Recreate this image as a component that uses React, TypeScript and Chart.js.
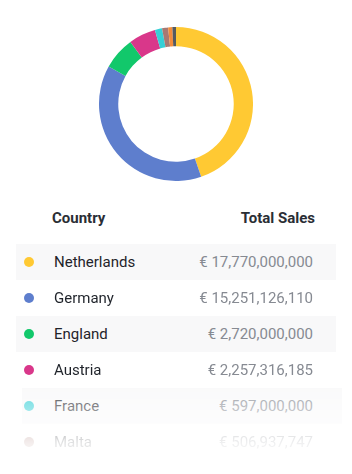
import React, { useEffect, useRef } from "react";
import { Chart, registerables } from "chart.js";

Chart.register(...registerables);

const countries = ["Netherlands", "Germany", "England", "Austria", "France", "Malta", "Belgium", "Other"];
const sales = [17770000000, 15251126110, 2720000000, 2257316185, 597000000, 506937747, 350000000, 300000000];
const colors = ["#FFC933", "#5E7ECD", "#12C86B", "#D9378A", "#36CFD6", "#A97872", "#F28B3B", "#555A60"];
const visibleRows = 6;

const fmt = (v: number) => "€ " + v.toLocaleString("en-US");

export default function App() {
  const ref = useRef<HTMLCanvasElement | null>(null);

  useEffect(() => {
    if (!ref.current) return;
    const chart = new Chart(ref.current, {
      type: "doughnut",
      data: {
        labels: countries,
        datasets: [
          {
            data: sales,
            backgroundColor: colors,
            borderWidth: 0,
          },
        ],
      },
      options: {
        animation: false,
        responsive: true,
        maintainAspectRatio: false,
        cutout: "75%",
        layout: { padding: 0 },
        plugins: { legend: { display: false }, tooltip: { enabled: false } },
      },
    });
    return () => chart.destroy();
  }, []);

  const font = "Roboto, 'Noto Sans', sans-serif";
  const mask = "linear-gradient(to bottom, #000 0px, #000 130px, rgba(0,0,0,0.55) 162px, rgba(0,0,0,0.12) 200px, rgba(0,0,0,0) 225px)";

  return (
    <div style={{ position: "absolute", left: 0, top: 0, width: 352, height: 474, background: "#fff", overflow: "hidden", fontFamily: font }}>
      <div style={{ position: "absolute", left: 99, top: 27, width: 154, height: 154 }}>
        <canvas ref={ref} />
      </div>
      <div style={{ position: "absolute", left: 16, top: 200, width: 320, height: 36, fontWeight: 700, fontSize: 15, color: "#2a2e35", lineHeight: "36px" }}>
        <div style={{ position: "absolute", left: 36, top: 0 }}>Country</div>
        <div style={{ position: "absolute", right: 21, top: 0 }}>Total Sales</div>
      </div>
      <div
        style={{
          position: "absolute",
          left: 0,
          top: 244,
          width: 352,
          height: 226,
          WebkitMaskImage: mask,
          maskImage: mask,
        } as any}
      >
        {countries.slice(0, visibleRows).map((c, i) => (
          <div key={c} style={{ position: "absolute", left: 16, top: i * 36, width: 320, height: 36, fontSize: 15 }}>
            {i % 2 === 0 && (
              <div style={{ position: "absolute", left: i === 4 ? 6 : 0, top: 0, width: 320, height: 36, background: "#f8f8f9" }} />
            )}
            <div style={{ position: "absolute", left: 8, top: 13, width: 10, height: 10, borderRadius: 5, background: colors[i] }} />
            <div style={{ position: "absolute", left: 38, top: 0, height: 36, lineHeight: "37px", color: "#1f232a" }}>{c}</div>
            <div style={{ position: "absolute", right: 23, top: 0, height: 36, lineHeight: "37px", color: "#868a92" }}>{fmt(sales[i])}</div>
          </div>
        ))}
      </div>
    </div>
  );
}
